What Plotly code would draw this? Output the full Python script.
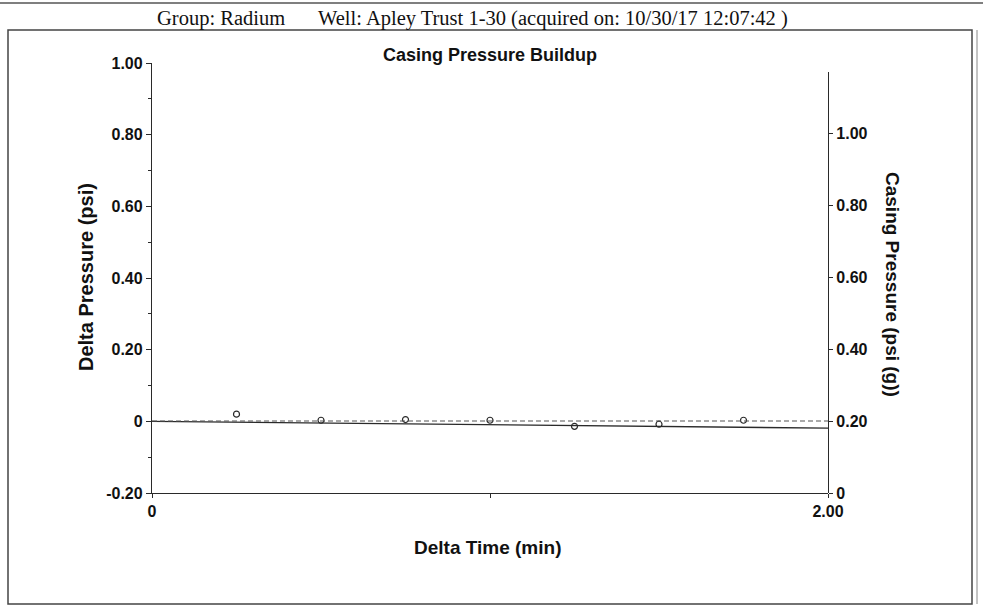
import plotly.graph_objects as go

# ---- data ----
delta_time = [0.25, 0.50, 0.75, 1.00, 1.25, 1.50, 1.75]
delta_pressure = [0.020, 0.003, 0.005, 0.003, -0.014, -0.008, 0.003]
fit_time = [0.0, 2.0]
fit_delta = [0.0, -0.019]
casing_time = [0.0, 2.0]
casing_pressure = [0.20, 0.20]
left_ticks = [-0.2, 0.0, 0.2, 0.4, 0.6, 0.8, 1.0]
left_labels = ["-0.20", "0", "0.20", "0.40", "0.60", "0.80", "1.00"]
right_ticks = [0.0, 0.2, 0.4, 0.6, 0.8, 1.0]
right_labels = ["0", "0.20", "0.40", "0.60", "0.80", "1.00"]
x_ticks = [0.0, 2.0]
x_labels = ["0", "2.00"]

W, H = 983, 613
L, R, T, B = 152, 828, 63, 493
INK = "#2a2a2a"
SANS = "Liberation Sans, Arial, sans-serif"
SERIF = "Liberation Serif, Times New Roman, serif"


def px(x):
    return (x - L) / (R - L)


def py(y):
    return (B - y) / (B - T)


fig = go.Figure()
fig.add_trace(go.Scatter(x=casing_time, y=casing_pressure, yaxis="y2", mode="lines",
                         line=dict(color="#555", width=1.2, dash="5px,3px"), hoverinfo="skip"))
fig.add_trace(go.Scatter(x=fit_time, y=fit_delta, mode="lines",
                         line=dict(color=INK, width=1.3), hoverinfo="skip"))
fig.add_trace(go.Scatter(x=delta_time, y=delta_pressure, mode="markers",
                         marker=dict(symbol="circle-open", size=6, color=INK,
                                     line=dict(width=1.2, color=INK))))

tickfont = dict(family=SANS, size=16, color="#111", weight="bold")

fig.update_layout(
    width=W, height=H,
    margin=dict(l=L, r=W - R, t=T, b=H - B, autoexpand=False),
    paper_bgcolor="white", plot_bgcolor="rgba(0,0,0,0)",
    showlegend=False,
    xaxis=dict(range=[0, 2], tickvals=x_ticks, ticktext=x_labels, automargin=False,
               showgrid=False, zeroline=False, showline=True, linecolor=INK, linewidth=1.3,
               ticks="outside", ticklen=4, tickcolor=INK, tickfont=tickfont,
               minor=dict(tickvals=[1.0], ticks="outside", ticklen=4, tickcolor=INK)),
    yaxis=dict(range=[-0.2, 1.0], tickvals=left_ticks, ticktext=left_labels, automargin=False,
               showgrid=False, zeroline=False, showline=True, linecolor=INK, linewidth=1.3,
               ticks="outside", ticklen=5, tickcolor=INK, tickfont=tickfont,
               minor=dict(dtick=0.1, ticks="outside", ticklen=3, tickcolor=INK)),
    yaxis2=dict(range=[0, (B - 72) / 360.0], domain=[0, (B - 72) / (B - T)],
                anchor="x", side="right", automargin=False,
                tickvals=right_ticks, ticktext=right_labels,
                showgrid=False, zeroline=False, showline=True, linecolor=INK, linewidth=1.3,
                ticks="outside", ticklen=4, tickcolor=INK, tickfont=tickfont),
)

ann = [
    dict(text="Casing Pressure Buildup", x=px(490), y=py(55), font=dict(family=SANS, size=18, color="#111", weight="bold")),
    dict(text="Delta Time (min)", x=px(487), y=py(547), font=dict(family=SANS, size=19, color="#111", weight="bold")),
    dict(text="Delta Pressure (psi)", x=px(86), y=py(277), textangle=-90, font=dict(family=SANS, size=20, color="#111", weight="bold")),
    dict(text="Casing Pressure (psi (g))", x=px(893), y=py(284), textangle=90, font=dict(family=SANS, size=19, color="#111", weight="bold")),
    dict(text="Group: Radium", x=px(221), y=py(18), font=dict(family=SERIF, size=20.5, color="#111")),
    dict(text="Well: Apley Trust 1-30 (acquired on: 10/30/17 12:07:42 )", x=px(553), y=py(18), font=dict(family=SERIF, size=20.5, color="#111")),
]
for a in ann:
    a.update(xref="paper", yref="paper", showarrow=False, xanchor="center", yanchor="middle")
fig.update_layout(annotations=ann)

shapes = [
    dict(type="line", x0=px(0), x1=px(983), y0=py(3), y1=py(3), line=dict(color="#555", width=1.5)),
    dict(type="rect", x0=px(8), x1=px(972), y0=py(30), y1=py(604), line=dict(color="#444", width=1.5)),
    dict(type="line", x0=px(977), x1=px(977), y0=py(30), y1=py(604), line=dict(color="#888", width=1)),
]
for s in shapes:
    s.update(xref="paper", yref="paper", layer="below")
fig.update_layout(shapes=shapes)

fig.write_html("out.html", config={"displayModeBar": False},
               post_script="document.body.style.margin='0';document.body.style.overflow='hidden';")
